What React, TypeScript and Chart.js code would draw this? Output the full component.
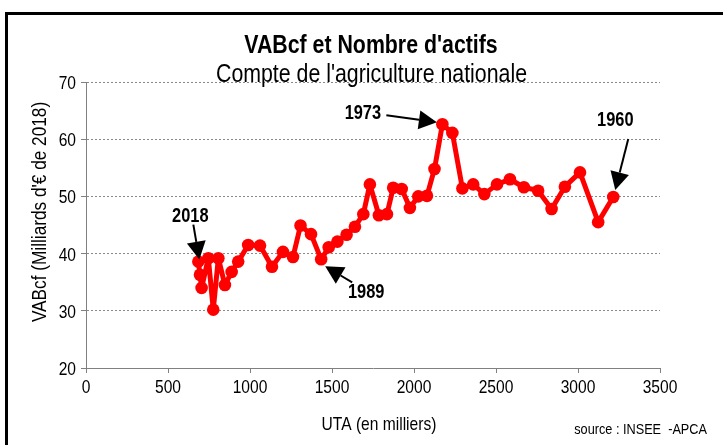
import { useEffect, useRef } from "react";
import { Chart, registerables } from "chart.js";

Chart.register(...registerables);

// ---- data (time order, 1960 -> 2018) ----
const uta = [
  3215, 3123, 3012, 2920, 2839, 2757, 2670, 2585, 2506, 2429,
  2361, 2295, 2234, 2173, 2125, 2079, 2026, 1975, 1925, 1873,
  1835, 1786, 1731, 1691, 1640, 1589, 1533, 1480, 1434, 1372,
  1308, 1262, 1201, 1134, 1061, 989, 928, 888, 847, 807,
  776, 746, 705, 695, 685,
];
const vabcf = [
  49.9, 45.5, 54.2, 51.7, 47.8, 51.0, 51.6, 53.0, 52.1, 50.4,
  52.1, 51.4, 61.1, 62.6, 54.8, 50.1, 50.0, 48.0, 51.3, 51.5,
  46.9, 46.7, 52.1, 46.9, 44.7, 43.3, 42.1, 41.1, 39.0, 43.4,
  44.9, 39.4, 40.3, 37.7, 41.4, 41.5, 38.6, 36.8, 34.5, 39.2,
  30.2, 39.2, 34.0, 36.3, 38.6,
];
const xTicks = [0, 500, 1000, 1500, 2000, 2500, 3000, 3500];
const yTicks = [20, 30, 40, 50, 60, 70];
const yearLabels = ["1960", "1973", "1989", "2018"];
const yearIndex = [0, 13, 28, 44];

const TITLE = "VABcf et Nombre d'actifs";
const SUBTITLE = "Compte de l'agriculture nationale";
const X_TITLE = "UTA (en milliers)";
const Y_TITLE = "VABcf (Milliards d'€ de 2018)";
const SOURCE = "source : INSEE  -APCA";

const FAM = '"Liberation Sans", Arial, sans-serif';
const NARROW = 0.82;

// arrow geometry relative to the labelled data point: [tipDx, tipDy, startDx, startDy, textDx, textDy]
const arrowGeom: Record<string, number[]> = {
  "1960": [2, -7, 15, -58, 2, -71],
  "1973": [-5.5, -2, -56, -9, -79.5, -5],
  "1989": [4, 7, 31, 23, 45, 39],
  "2018": [1, -2, -5, -37, -8, -40],
};

function narrowText(
  ctx: CanvasRenderingContext2D,
  text: string,
  x: number,
  y: number,
  font: string,
  align: CanvasTextAlign,
  baseline: CanvasTextBaseline = "alphabetic",
  rotate = 0
) {
  ctx.save();
  ctx.translate(x, y);
  if (rotate) ctx.rotate(rotate);
  ctx.scale(NARROW, 1);
  ctx.font = font;
  ctx.textAlign = align;
  ctx.textBaseline = baseline;
  ctx.fillStyle = "#000";
  ctx.fillText(text, 0, 0);
  ctx.restore();
}

function drawArrow(ctx: CanvasRenderingContext2D, sx: number, sy: number, tx: number, ty: number) {
  const ang = Math.atan2(ty - sy, tx - sx);
  const headLen = 18;
  const headW = 9.5;
  const bx = tx - headLen * Math.cos(ang);
  const by = ty - headLen * Math.sin(ang);
  ctx.beginPath();
  ctx.moveTo(sx, sy);
  ctx.lineTo(bx, by);
  ctx.lineWidth = 2;
  ctx.strokeStyle = "#000";
  ctx.stroke();
  ctx.beginPath();
  ctx.moveTo(tx, ty);
  ctx.lineTo(bx + headW * Math.sin(ang), by - headW * Math.cos(ang));
  ctx.lineTo(bx - headW * Math.sin(ang), by + headW * Math.cos(ang));
  ctx.closePath();
  ctx.fillStyle = "#000";
  ctx.fill();
}

const overlay = {
  id: "overlay",
  beforeDraw(chart: any) {
    const { ctx, width, height } = chart;
    ctx.save();
    ctx.fillStyle = "#fff";
    ctx.fillRect(0, 0, width, height);
    ctx.restore();
  },
  afterDraw(chart: any) {
    const { ctx } = chart;
    const xs = chart.scales.x;
    const ys = chart.scales.y;
    ctx.save();
    // frame
    ctx.strokeStyle = "#000";
    ctx.lineWidth = 3;
    ctx.strokeRect(6.5, 13.5, 800, 600);

    narrowText(ctx, TITLE, 371, 53, `bold 26px ${FAM}`, "center");
    narrowText(ctx, SUBTITLE, 371.5, 82, `26px ${FAM}`, "center");
    narrowText(ctx, X_TITLE, 379, 430, `19px ${FAM}`, "center");
    narrowText(ctx, Y_TITLE, 46, 212, `21px ${FAM}`, "center", "alphabetic", -Math.PI / 2);
    narrowText(ctx, SOURCE, 707, 434, `15.5px ${FAM}`, "right");

    // tick labels (positions from the library scales)
    xTicks.forEach((v) => {
      narrowText(ctx, String(v), xs.getPixelForValue(v), 393, `19px ${FAM}`, "center");
    });
    yTicks.forEach((v) => {
      narrowText(ctx, String(v), xs.left - 10, ys.getPixelForValue(v) + 7, `19px ${FAM}`, "right");
    });

    // annotations
    yearLabels.forEach((lab, k) => {
      const i = yearIndex[k];
      const px = xs.getPixelForValue(uta[i]);
      const py = ys.getPixelForValue(vabcf[i]);
      const g = arrowGeom[lab];
      drawArrow(ctx, px + g[2], py + g[3], px + g[0], py + g[1]);
      narrowText(ctx, lab, px + g[4], py + g[5], `bold 20px ${FAM}`, "center");
    });
    ctx.restore();
  },
};

export default function App() {
  const ref = useRef<HTMLCanvasElement | null>(null);
  useEffect(() => {
    if (!ref.current) return;
    const points = uta.map((x, i) => ({ x, y: vabcf[i] }));
    const chart = new Chart(ref.current, {
      type: "line",
      data: {
        datasets: [
          {
            data: points,
            borderColor: "#ff0000",
            backgroundColor: "#ff0000",
            pointBackgroundColor: "#ff0000",
            pointBorderColor: "#ff0000",
            borderWidth: 5,
            borderJoinStyle: "round",
            borderCapStyle: "round",
            pointRadius: 6.3,
            pointBorderWidth: 0,
            tension: 0,
            fill: false,
          },
        ],
      },
      options: {
        animation: false,
        responsive: false,
        events: [],
        layout: { padding: { left: 0, right: 63, top: 82, bottom: 0 } },
        plugins: {
          legend: { display: false },
          tooltip: { enabled: false },
          title: { display: false },
        },
        scales: {
          x: {
            type: "linear",
            min: xTicks[0],
            max: xTicks[xTicks.length - 1],
            afterBuildTicks: (s: any) => {
              s.ticks = xTicks.map((v) => ({ value: v }));
            },
            ticks: { display: false },
            grid: {
              drawOnChartArea: false,
              drawTicks: true,
              tickLength: 5,
              color: "#808080",
              tickColor: "#808080",
            },
            border: { color: "#808080", width: 1 },
            afterFit: (s: any) => {
              s.height = 77;
            },
          },
          y: {
            type: "linear",
            min: yTicks[0],
            max: yTicks[yTicks.length - 1],
            afterBuildTicks: (s: any) => {
              s.ticks = yTicks.map((v) => ({ value: v }));
            },
            ticks: { display: false },
            grid: {
              color: "#8a8a8a",
              drawTicks: true,
              tickLength: 5,
              tickColor: "#808080",
              tickBorderDash: [],
            },
            border: { color: "#808080", width: 1, dash: [2, 2] },
            afterFit: (s: any) => {
              s.width = 86;
            },
          },
        },
      },
      plugins: [overlay],
    } as any);
    return () => chart.destroy();
  }, []);
  return (
    <div style={{ position: "fixed", left: 0, top: 0, width: 723, height: 445, background: "#fff" }}>
      <canvas ref={ref} width={723} height={445} style={{ display: "block", width: 723, height: 445 }} />
    </div>
  );
}
